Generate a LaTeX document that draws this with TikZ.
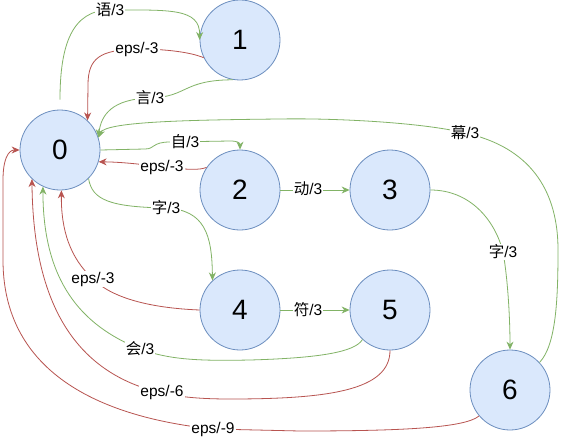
\documentclass[tikz,border=0pt]{standalone}
\usepackage{fontspec}
\setmainfont{Liberation Sans}
\newfontfamily\cjk{Noto Sans CJK SC}
\usetikzlibrary{arrows.meta}
\definecolor{nfill}{HTML}{DAE8FC}
\definecolor{nline}{HTML}{6C8EBF}
\definecolor{gline}{HTML}{82B366}
\definecolor{rline}{HTML}{B85450}
\begin{document}
\begin{tikzpicture}[x=1pt,y=-1pt,
  state/.style={circle, draw=nline, fill=nfill, line width=0.8pt, minimum size=80pt, inner sep=0pt, font=\fontsize{28}{32}\selectfont},
  lbl/.style={fill=white, inner sep=1pt, font=\fontsize{15.5}{18}\selectfont},
  gedge/.style={draw=gline, line width=0.8pt, -{Stealth[length=8pt,width=7pt]}},
  redge/.style={draw=rline, line width=0.8pt, -{Stealth[length=8pt,width=7pt]}}]
\fill[white] (0,0) rectangle (561,441);
\useasboundingbox (0,0) rectangle (561,441);
\node[state] (n0) at (60,150) {0};
\node[state] (n1) at (240,40) {1};
\node[state] (n2) at (240,190) {2};
\node[state] (n3) at (390,190) {3};
\node[state] (n4) at (240,310) {4};
\node[state] (n5) at (390,310) {5};
\node[state] (n6) at (510,390) {6};
% 0 -> 1
\draw[gedge] ([yshift=10pt]n0.north) .. controls (60,45) and (72,10) .. (110,10) .. controls (170,10) and (200,8) .. (n1.west);
% 1 -> 0 eps
\draw[redge] (n1.206) .. controls (190,52) and (165,49) .. (137,49) .. controls (100,50) and (88,58) .. (88,85) -- (n0.47);
% 1 -> 0 yan
\draw[gedge] (n1.260) .. controls (182,80) and (188,97) .. (150,98) .. controls (112,99) and (101,115) .. (n0.18);
% 6 -> 0 mu
\draw[gedge] (n6.43) .. controls (556,345) and (558,300) .. (558,250) .. controls (558,180) and (520,145) .. (465,133) .. controls (420,122) and (330,118) .. (280,119) .. controls (180,120) and (105,122) .. (n0.18);
% 0 -> 2
\draw[gedge] (n0.east) -- (145,149) .. controls (155,149) and (152,142) .. (170,142) -- (230,141) .. controls (238,141) and (240,143) .. (n2.north);
% 2 -> 0 eps
\draw[redge] (n2.146) .. controls (200,170) and (190,170) .. (162,167) .. controls (140,164) and (120,162) .. (n0.343);
% 2 -> 3
\draw[gedge] (n2.east) -- (n3.west);
% 4 -> 5
\draw[gedge] (n4.east) -- (n5.west);
% 0 -> 4
\draw[gedge] (n0.315) .. controls (92,200) and (110,207) .. (166,208) .. controls (205,210) and (212,235) .. (n4.133);
% 4 -> 0 eps
\draw[redge] (n4.west) .. controls (150,308) and (112,298) .. (93,279) .. controls (70,258) and (61,230) .. (n0.272);
% 5 -> 0 hui
\draw[gedge] (n5.227) .. controls (355,352) and (320,358) .. (250,360) .. controls (200,361) and (170,360) .. (140,349) .. controls (80,325) and (43,280) .. (n0.245);
% 5 -> 0 eps -6
\draw[redge] (n5.south) .. controls (390,390) and (330,399) .. (230,399) .. controls (200,399) and (180,397) .. (162,393) .. controls (60,370) and (33,280) .. (n0.226);
% 3 -> 6
\draw[gedge] (n3.east) .. controls (470,190) and (495,220) .. (503,252) .. controls (508,280) and (510,320) .. (n6.north);
% 6 -> 0 eps -9
\draw[redge] (n6.220) .. controls (465,428) and (400,431) .. (300,431) -- (213,429) .. controls (80,415) and (3,360) .. (3,260) -- (3,180) .. controls (3,160) and (8,150) .. (n0.west);
% labels
\node[lbl] (l01) at (110,10) {{\cjk 语}/3};
\node[lbl] (l10) at (137,49) {eps/-3};
\node[lbl] (l10b) at (150,98) {{\cjk 言}/3};
\node[lbl] (l60) at (465,133) {{\cjk 幕}/3};
\node[lbl] (l02) at (185,142) {{\cjk 自}/3};
\node[lbl] (l20) at (162,167) {eps/-3};
\node[lbl] (l23) at (308,189) {{\cjk 动}/3};
\node[lbl] (l04) at (166,208) {{\cjk 字}/3};
\node[lbl] (l36) at (503,252) {{\cjk 字}/3};
\node[lbl] (l40) at (93,279) {eps/-3};
\node[lbl] (l45) at (308,310) {{\cjk 符}/3};
\node[lbl] (l50) at (140,349) {{\cjk 会}/3};
\node[lbl] (l50b) at (162,392) {eps/-6};
\node[lbl] (l60b) at (213,429) {eps/-9};
\end{tikzpicture}
\end{document}
